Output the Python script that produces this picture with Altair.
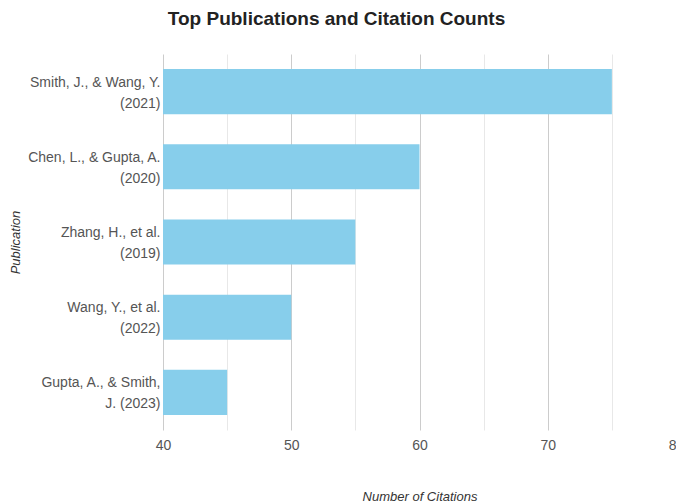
import altair as alt
import pandas as pd

# Publications (label lines split with "\n") and their citation counts
publications = [
    "Smith, J., & Wang, Y.\n(2021)",
    "Chen, L., & Gupta, A.\n(2020)",
    "Zhang, H., et al.\n(2019)",
    "Wang, Y., et al.\n(2022)",
    "Gupta, A., & Smith,\nJ. (2023)",
]
citations = [75, 60, 55, 50, 45]

x_ticks = [40, 45, 50, 55, 60, 65, 70, 75, 80]
axis_start = 40

df = pd.DataFrame({"Publication": publications, "Citations": citations})

FONT = "Liberation Sans"

bars = (
    alt.Chart(df)
    .mark_bar(color="#87CEEB")
    .encode(
        y=alt.Y(
            "Publication:N",
            sort=publications,
            scale=alt.Scale(paddingInner=0.4, paddingOuter=0.2),
            axis=alt.Axis(
                title="Publication",
                labelExpr="split(datum.label, '\\n')",
                labelFontSize=14,
                labelFont=FONT,
                labelColor="#555555",
                labelLineHeight=21,
                labelOffset=-9,
                labelPadding=3,
                labelLimit=250,
                ticks=False,
                domain=False,
                grid=False,
                titleFont=FONT,
                titleFontSize=13,
                titleFontStyle="italic",
                titleFontWeight="normal",
                titleColor="#333333",
                titleX=-148,
                titleY=188,
                titleAlign="center",
                titleBaseline="middle",
            ),
        ),
        x=alt.X(
            "Citations:Q",
            scale=alt.Scale(domain=[40, 80], zero=False, nice=False),
            axis=alt.Axis(
                title="Number of Citations",
                values=x_ticks,
                labelExpr="datum.value % 10 === 0 ? datum.label : ''",
                labelFontSize=14,
                labelFont=FONT,
                labelColor="#555555",
                labelPadding=8,
                labelFlush=False,
                ticks=False,
                domain=False,
                grid=True,
                gridColor={
                    "condition": {"test": "datum.value % 10 === 0", "value": "#cccccc"},
                    "value": "#e8e8e8",
                },
                gridWidth=1,
                titleFont=FONT,
                titleFontSize=13,
                titleFontStyle="italic",
                titleFontWeight="normal",
                titleColor="#333333",
                titleY=70,
                titleBaseline="alphabetic",
            ),
        ),
        x2=alt.datum(axis_start),
    )
)

chart = (
    bars.properties(
        width=513,
        height=376,
        background="white",
        autosize=alt.AutoSizeParams(type="none"),
        padding={"left": 163, "top": 54, "right": 0, "bottom": 72},
        title=alt.TitleParams(
            "Top Publications and Citation Counts",
            font=FONT,
            fontSize=19,
            fontWeight="bold",
            color="#222222",
            anchor="middle",
            dx=-83,
            baseline="alphabetic",
            offset=10,
        ),
    )
    .configure_view(stroke=None)
)

chart.save("out.html", embed_options={"renderer": "svg", "actions": False})
